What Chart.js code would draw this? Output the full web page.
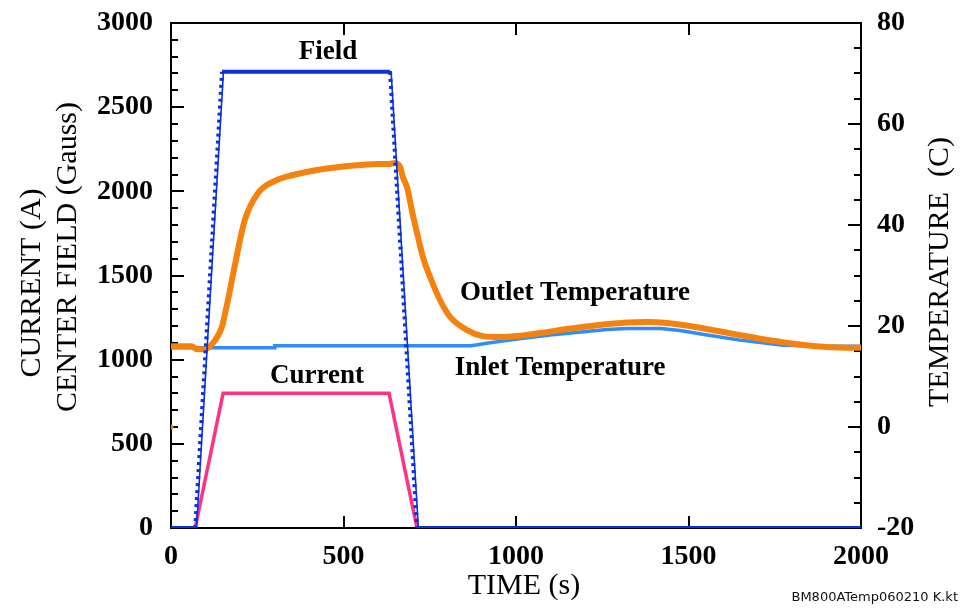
<!DOCTYPE html>
<html>
<head>
<meta charset="utf-8">
<script src="https://cdn.jsdelivr.net/npm/chart.js@4/dist/chart.umd.min.js"></script>
<style>
html,body{margin:0;padding:0;background:#fff;}
#wrap{width:968px;height:611px;position:relative;}
</style>
</head>
<body>
<div id="wrap"><canvas id="c" width="968" height="611"></canvas></div>
<script>
// ---- data ----
const timeField = [0, 70, 148, 635, 713, 2000];
const fieldMeasured = [0, 0, 2710, 2710, 0, 0];
const timeFieldLine = [0, 74, 152, 638, 717, 2000];
const fieldLine = [0, 0, 2710, 2710, 0, 0];

const timeCurrent = [0, 70, 151, 632, 713, 2000];
const currentA = [0, 0, 800, 800, 0, 0];

const timeOutlet = [0, 60, 75, 100, 110, 128, 148, 157, 165, 188, 214, 252, 307, 354, 423, 499, 548, 600, 635, 649, 664, 672, 684, 701, 716, 730, 751, 780, 809, 858, 904, 954, 1003, 1070, 1148, 1229, 1322, 1380, 1438, 1504, 1600, 1699, 1794, 1890, 1988, 2000];
const outletTemp = [16.0, 16.0, 15.4, 15.4, 15.8, 17.2, 19.9, 22.6, 25.1, 33.0, 41.0, 46.3, 48.9, 49.9, 50.9, 51.6, 51.9, 52.1, 52.1, 52.3, 51.5, 49.5, 47.5, 42.0, 37.6, 33.7, 29.7, 25.1, 21.8, 19.2, 18.0, 17.8, 18.0, 18.6, 19.4, 20.1, 20.7, 20.8, 20.6, 20.0, 18.8, 17.6, 16.6, 15.9, 15.7, 15.7];

const timeInlet = [0, 300, 301, 870, 925, 1003, 1099, 1264, 1322, 1420, 1475, 1554, 1649, 1774, 1890, 2000];
const inletTemp = [15.7, 15.7, 16.1, 16.1, 16.7, 17.4, 18.2, 19.3, 19.5, 19.5, 19.1, 18.2, 17.2, 16.2, 16.0, 16.0];

const strayTime = [0];
const strayTemp = [0];

const xTicks = [0, 500, 1000, 1500, 2000];
const leftTicks = [0, 500, 1000, 1500, 2000, 2500, 3000];
const rightTicks = [-20, 0, 20, 40, 60, 80];

const seriesLabels = [
  {text: 'Field', x: 455, y: 2828, axis: 'y'},
  {text: 'Current', x: 423, y: 903, axis: 'y'},
  {text: 'Outlet Temperature', x: 1171, y: 26.5, axis: 'y2'},
  {text: 'Inlet Temperature', x: 1128, y: 11.7, axis: 'y2'}
];

const pts = (xs, ys) => xs.map((x, i) => ({x: x, y: ys[i]}));

const SERIF = "'Liberation Serif', 'Times New Roman', serif";
const BLUE = '#0a30e0';
const INLET = '#2f8cff';
const ORANGE = '#f5820f';
const PINK = '#ff3382';

const decor = {
  id: 'decor',
  beforeDatasetsDraw(chart) {
    const {ctx, chartArea: a, scales} = chart;
    ctx.save();
    ctx.strokeStyle = '#000';
    ctx.lineWidth = 2;
    ctx.strokeRect(a.left, a.top, a.right - a.left, a.bottom - a.top);
    ctx.beginPath();
    for (let v = 0; v <= 3000; v += 100) {
      const y = Math.round(scales.y.getPixelForValue(v));
      const L = v % 500 === 0 ? 13 : 7;
      ctx.moveTo(a.left, y); ctx.lineTo(a.left + L, y);
    }
    for (let v = -20; v <= 80; v += 5) {
      const y = Math.round(scales.y2.getPixelForValue(v));
      const L = v % 20 === 0 ? 13 : 7;
      ctx.moveTo(a.right, y); ctx.lineTo(a.right - L, y);
    }
    xTicks.forEach(v => {
      const x = Math.round(scales.x.getPixelForValue(v));
      ctx.moveTo(x, a.bottom); ctx.lineTo(x, a.bottom - 12);
      ctx.moveTo(x, a.top); ctx.lineTo(x, a.top + 12);
    });
    ctx.stroke();
    ctx.restore();
  },
  afterDraw(chart) {
    const {ctx, scales} = chart;
    ctx.save();
    ctx.fillStyle = '#000';
    ctx.textAlign = 'center';
    ctx.textBaseline = 'middle';
    ctx.font = 'bold 27px ' + SERIF;
    seriesLabels.forEach(l => {
      ctx.fillText(l.text, scales.x.getPixelForValue(l.x), scales[l.axis].getPixelForValue(l.y));
    });
    ctx.font = '30px ' + SERIF;
    ctx.fillText('TIME (s)', 524, 586);
    const rot = (t, x, y) => {
      ctx.save(); ctx.translate(x, y); ctx.rotate(-Math.PI / 2); ctx.fillText(t, 0, 0); ctx.restore();
    };
    rot('CURRENT (A)', 32, 283);
    rot('CENTER FIELD (Gauss)', 68, 257);
    rot('TEMPERATURE  (C)', 940, 272);
    ctx.font = "13px 'DejaVu Sans', sans-serif";
    ctx.textAlign = 'right';
    ctx.fillStyle = '#111';
    ctx.fillText('BM800ATemp060210 K.kt', 958, 598);
    ctx.restore();
  }
};

const noPad = s => { s.paddingTop = 0; s.paddingBottom = 0; s.paddingLeft = 0; s.paddingRight = 0; };
const tickFont = {family: SERIF, size: 28, weight: 'bold'};

new Chart(document.getElementById('c'), {
  type: 'line',
  data: {
    datasets: [
      {
        label: 'Field (measured)', data: pts(timeField, fieldMeasured), yAxisID: 'y',
        borderColor: BLUE, borderWidth: 4, pointRadius: 0, tension: 0,
        segment: { borderDash: c => (c.p0.parsed.y === c.p1.parsed.y ? [] : [3, 4]),
                   borderWidth: c => (c.p0.parsed.y === c.p1.parsed.y ? 4 : 4) }
      },
      {
        label: 'Field', data: pts(timeFieldLine, fieldLine), yAxisID: 'y',
        borderColor: BLUE, borderWidth: 1.6, pointRadius: 0, tension: 0
      },
      {
        label: 'Current', data: pts(timeCurrent, currentA), yAxisID: 'y',
        borderColor: PINK, borderWidth: 3.5, pointRadius: 0, tension: 0
      },
      {
        label: 'Outlet Temperature', data: pts(timeOutlet, outletTemp), yAxisID: 'y2',
        borderColor: ORANGE, borderWidth: 6, pointRadius: 0, cubicInterpolationMode: 'monotone',
        borderCapStyle: 'round', borderJoinStyle: 'round'
      },
      {
        label: 'Outlet start', data: pts(strayTime, strayTemp), yAxisID: 'y2', showLine: false,
        pointRadius: 2.5, pointBackgroundColor: ORANGE, pointBorderWidth: 0
      },
      {
        label: 'Inlet Temperature', data: pts(timeInlet, inletTemp), yAxisID: 'y2',
        borderColor: INLET, borderWidth: 3.5, pointRadius: 0, tension: 0
      }
    ]
  },
  options: {
    responsive: false,
    animation: false,
    layout: {padding: {top: 23, left: 0, right: 0, bottom: 0}},
    plugins: {legend: {display: false}, tooltip: {enabled: false}, title: {display: false}},
    scales: {
      x: {
        type: 'linear', min: 0, max: 2000,
        afterFit: s => { s.height = 83; noPad(s); },
        afterBuildTicks: s => { s.ticks = xTicks.map(v => ({value: v})); },
        grid: {display: false, drawTicks: false}, border: {display: false},
        ticks: {color: '#000', padding: 12, font: tickFont, maxRotation: 0, callback: v => String(v)}
      },
      y: {
        type: 'linear', position: 'left', min: 0, max: 3000,
        afterFit: s => { s.width = 171; noPad(s); },
        afterBuildTicks: s => { s.ticks = leftTicks.map(v => ({value: v})); },
        grid: {display: false, drawTicks: false}, border: {display: false},
        ticks: {color: '#000', padding: 18, font: tickFont, callback: v => String(v)}
      },
      y2: {
        type: 'linear', position: 'right', min: -20, max: 80,
        afterFit: s => { s.width = 107; noPad(s); },
        afterBuildTicks: s => { s.ticks = rightTicks.map(v => ({value: v})); },
        grid: {display: false, drawTicks: false}, border: {display: false},
        ticks: {color: '#000', padding: 16, font: tickFont, callback: v => String(v)}
      }
    }
  },
  plugins: [decor]
});
</script>
</body>
</html>
